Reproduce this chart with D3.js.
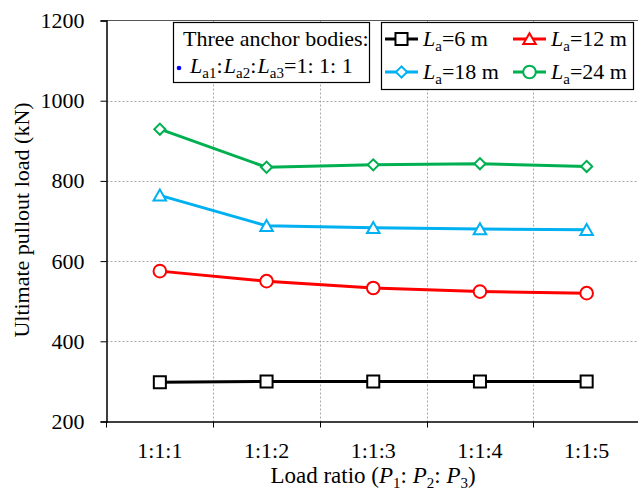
<!DOCTYPE html>
<html>
<head>
<meta charset="utf-8">
<script src="https://cdn.jsdelivr.net/npm/d3@7"></script>
<style>
  html, body { margin: 0; padding: 0; background: #fff; }
  svg { display: block; }
  svg text { font-family: "Liberation Serif", "Times New Roman", serif; fill: #000; }
</style>
</head>
<body>
<svg id="chart" width="638" height="495"></svg>
<script>
// Load ratios on the x axis
const categories = ["1:1:1", "1:1:2", "1:1:3", "1:1:4", "1:1:5"];
// Ultimate pullout load (kN) for each anchor length
const la6  = [298, 300, 300, 300, 300];
const la12 = [575, 550, 533, 524, 520];
const la18 = [764, 688, 683, 680, 678];
const la24 = [929, 834, 840, 843, 836];
const yTicks = [200, 400, 600, 800, 1000, 1200];

const series = [
  { len: "6",  values: la6,  color: "#000000", plotMarker: "square",   legendMarker: "square" },
  { len: "12", values: la12, color: "#ff0000", plotMarker: "circle",   legendMarker: "triangle" },
  { len: "18", values: la18, color: "#00b0f0", plotMarker: "triangle", legendMarker: "diamond" },
  { len: "24", values: la24, color: "#00b050", plotMarker: "diamond",  legendMarker: "circle" }
];

const svg = d3.select("#chart");
const pLeft = 106.5, pRight = 640, pTop = 20.5, pBottom = 421.5;

const x = d3.scaleBand().domain(categories).range([pLeft, pRight]);
const y = d3.scaleLinear().domain([200, 1200]).range([pBottom, pTop]);
const cx = c => x(c) + x.bandwidth() / 2;

// Dotted grid
const grid = svg.append("g").attr("stroke", "#a6a6a6").attr("stroke-width", 1)
  .attr("stroke-dasharray", "2,2");
grid.selectAll("line.h").data(yTicks.filter(d => d > 200 && d < 1200)).join("line")
  .attr("class", "h")
  .attr("x1", pLeft).attr("x2", pRight)
  .attr("y1", d => Math.round(y(d)) + 0.5).attr("y2", d => Math.round(y(d)) + 0.5);
grid.selectAll("line.v").data(categories.slice(1)).join("line")
  .attr("class", "v")
  .attr("x1", d => Math.round(x(d)) + 0.5).attr("x2", d => Math.round(x(d)) + 0.5)
  .attr("y1", pTop).attr("y2", pBottom);

// Top edge
svg.append("line").attr("x1", pLeft).attr("x2", pRight).attr("y1", pTop).attr("y2", pTop)
  .attr("stroke", "#555").attr("stroke-width", 1);

// Axes
const yAxis = svg.append("g").attr("transform", `translate(${pLeft},0)`)
  .call(d3.axisLeft(y).tickValues(yTicks).tickFormat(d3.format("d")).tickSize(6).tickPadding(16));
const xAxis = svg.append("g").attr("transform", `translate(0,${pBottom})`)
  .call(d3.axisBottom(x).tickSize(0).tickPadding(21));
// band-edge ticks on x axis
xAxis.selectAll("line.edge").data(categories.slice(1)).join("line")
  .attr("class", "edge")
  .attr("x1", d => Math.round(x(d)) + 0.5).attr("x2", d => Math.round(x(d)) + 0.5)
  .attr("y1", 0).attr("y2", 6);
xAxis.append("line").attr("x1", pLeft).attr("x2", pLeft).attr("y1", 0).attr("y2", 6);

[yAxis, xAxis].forEach(a => {
  a.attr("font-family", null).attr("font-size", 22);
  a.selectAll(".domain").attr("stroke", "#000").attr("stroke-width", 1.5);
  a.selectAll("line").attr("stroke", "#000");
  a.selectAll("text").attr("fill", "#000");
});

// Axis titles
svg.append("text").attr("transform", "translate(29,220) rotate(-90)")
  .attr("text-anchor", "middle").attr("font-size", 22).text("Ultimate pullout load (kN)");

const xt = svg.append("text").attr("x", 373).attr("y", 483).attr("text-anchor", "middle")
  .attr("font-size", 23);
xt.append("tspan").text("Load ratio (");
[1, 2, 3].forEach(k => {
  xt.append("tspan").attr("font-style", "italic").text("P");
  xt.append("tspan").attr("font-size", 15).attr("dy", 5).text(String(k));
  xt.append("tspan").attr("dy", -5).text(k < 3 ? ": " : ")");
});

// Marker shapes
const sym = {
  square: { d: d3.symbol(d3.symbolSquare, 145)(), rot: 0, dy: 0 },
  circle: { d: d3.symbol(d3.symbolCircle, 125)(), rot: 0, dy: 0 },
  triangle: { d: d3.symbol(d3.symbolTriangle, 68)(), rot: 0, dy: 1.5 },
  diamond: { d: d3.symbol(d3.symbolSquare, 62)(), rot: 45, dy: 0 }
};
const place = (m, px, py) => `translate(${px},${py + m.dy}) rotate(${m.rot})`;

const line = d3.line().x((d, i) => cx(categories[i])).y(d => y(d));

series.forEach(s => {
  const g = svg.append("g");
  const m = sym[s.plotMarker];
  g.append("path").attr("d", line(s.values)).attr("fill", "none")
    .attr("stroke", s.color).attr("stroke-width", 3);
  g.selectAll("path.m").data(s.values).join("path")
    .attr("class", "m")
    .attr("d", m.d)
    .attr("transform", (d, i) => place(m, cx(categories[i]), y(d)))
    .attr("fill", "#fff").attr("stroke", s.color).attr("stroke-width", 2);
});

// Left legend box: anchor body ratio
const lb = svg.append("g");
lb.append("rect").attr("x", 173.5).attr("y", 22.5).attr("width", 196).attr("height", 60)
  .attr("fill", "#fff").attr("stroke", "#000").attr("stroke-width", 1.2);
lb.append("text").attr("x", 183).attr("y", 46).attr("font-size", 22).text("Three anchor bodies:");
lb.append("circle").attr("cx", 179).attr("cy", 68).attr("r", 2.3).attr("fill", "#0000ff");
const lt = lb.append("text").attr("x", 190).attr("y", 73).attr("font-size", 22);
["a1", "a2", "a3"].forEach((sub, i) => {
  lt.append("tspan").attr("font-style", "italic").text("L");
  lt.append("tspan").attr("font-size", 15).attr("dy", 5).text(sub);
  lt.append("tspan").attr("dy", -5).text(i < 2 ? ":" : "=1: 1: 1");
  if (i < 2) lt.append("tspan").attr("font-size", 5).text(" ");
});

// Right legend box: anchor length series
const rb = svg.append("g");
rb.append("rect").attr("x", 381.5).attr("y", 22.5).attr("width", 252).attr("height", 67)
  .attr("fill", "#fff").attr("stroke", "#000").attr("stroke-width", 1.2);
const pos = [[385, 39], [513, 39], [385, 72], [513, 72]];
series.forEach((s, i) => {
  const [lx, ly] = pos[i];
  const m = sym[s.legendMarker];
  rb.append("line").attr("x1", lx).attr("x2", lx + 33).attr("y1", ly).attr("y2", ly)
    .attr("stroke", s.color).attr("stroke-width", 3);
  rb.append("path").attr("d", m.d)
    .attr("transform", place(m, lx + 16.5, ly))
    .attr("fill", "#fff").attr("stroke", s.color).attr("stroke-width", 2);
  const t = rb.append("text").attr("x", lx + 38).attr("y", ly + 7).attr("font-size", 22);
  t.append("tspan").attr("font-style", "italic").text("L");
  t.append("tspan").attr("font-size", 15).attr("dy", 5).text("a");
  t.append("tspan").attr("dy", -5).text("=" + s.len + " m");
});
</script>
</body>
</html>
